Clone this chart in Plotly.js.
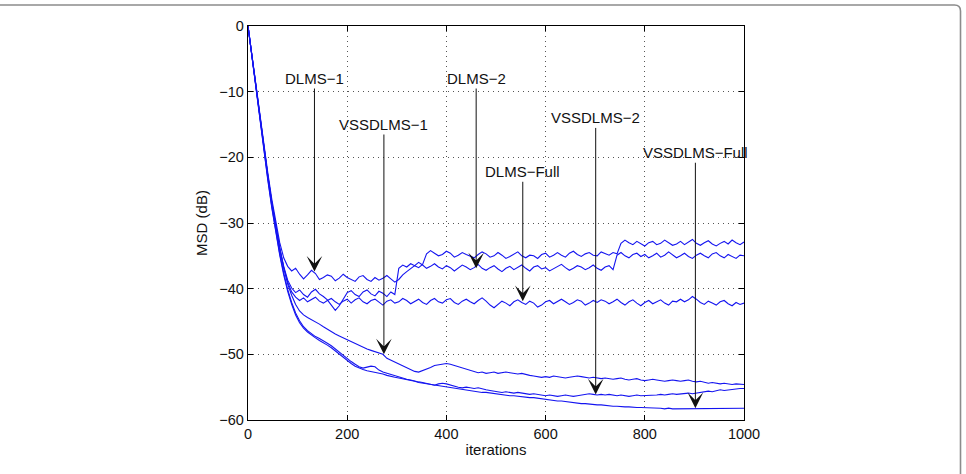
<!DOCTYPE html>
<html>
<head>
<meta charset="utf-8">
<script src="https://cdn.plot.ly/plotly-3.0.1.min.js"></script>
<style>
  html, body { margin: 0; padding: 0; background: #fff; }
  #chart { width: 966px; height: 474px; }
</style>
</head>
<body>
<div id="chart"></div>
<script>
// MSD learning curves, sampled every 8 iterations (0 ... 1000)
const step = 8;
const iterations = Array.from({ length: 126 }, (_, i) => i * step);

const dlms1 = [
  0, -4.6, -9.3, -13.8, -18.2, -22.4, -26.4, -29.9, -33.0, -35.3,
  -36.6, -37.3, -36.9, -37.8, -38.5, -37.9, -37.2, -37.7, -38.6, -38.3,
  -37.9, -38.1, -38.8, -38.4, -37.8, -38.3, -38.6, -38.9, -38.2, -38.0,
  -38.6, -38.9, -38.3, -38.7, -38.4, -38.0, -38.5, -39.0, -38.6, -37.9,
  -37.4, -37.0, -36.5, -36.8, -36.3, -34.7, -34.2, -34.6, -35.0, -34.8,
  -34.3, -34.6, -35.2, -34.9, -34.5, -34.8, -35.1, -35.3, -34.8, -34.4,
  -34.7, -35.2, -35.0, -34.5, -34.9, -35.4, -35.1, -34.7, -34.4, -35.0,
  -35.3, -34.9, -35.0, -35.4, -34.8, -34.6, -35.2, -34.9, -34.5, -34.9,
  -35.2, -34.6, -34.3, -34.8, -35.1, -34.7, -34.5, -34.9, -35.0, -34.4,
  -34.7, -34.9, -34.5, -34.7, -33.1, -32.6, -33.0, -33.3, -32.8, -33.2,
  -33.5, -33.0, -32.8, -33.3, -33.1, -32.6, -33.0, -33.4, -33.2, -32.8,
  -33.3, -32.9, -32.5, -33.1, -33.4, -33.0, -32.7, -33.2, -33.5, -33.1,
  -32.8, -33.2, -32.6, -33.0, -33.3, -32.9
];

const dlms2 = [
  0, -4.7, -9.5, -14.1, -18.6, -22.9, -27.0, -30.6, -33.8, -36.6,
  -38.7, -39.9, -40.6, -40.2, -40.9, -41.3, -40.5, -40.1, -40.8, -41.2,
  -41.7, -42.5, -43.3, -42.6, -41.5, -40.6, -40.3, -40.9, -41.2, -40.5,
  -40.2, -40.8, -41.1, -40.4, -40.7, -41.2, -40.5, -40.9, -36.9, -36.4,
  -36.7, -36.2, -36.5, -36.0, -36.4, -36.9, -36.6, -36.2, -36.7, -37.0,
  -36.5, -36.8, -37.3, -36.9, -36.4, -36.7, -37.1, -36.8, -36.3, -36.9,
  -37.2, -36.8, -36.5, -37.0, -37.4, -36.9, -36.6, -37.1, -36.8, -36.4,
  -36.9, -37.3, -36.7, -36.5, -37.0, -36.8, -37.3, -37.0, -36.6, -36.3,
  -36.8, -37.2, -36.9, -36.5, -36.7, -37.1, -36.8, -36.4, -36.9, -37.2,
  -36.7, -36.5, -37.1, -34.9, -34.5, -35.0, -35.3, -34.8, -34.6, -35.1,
  -34.8, -35.3, -35.0, -34.6, -35.2, -34.9, -34.4, -34.8, -35.3, -35.0,
  -34.6, -35.1, -35.4, -34.9, -34.6, -35.0, -35.3, -34.7, -34.5, -35.0,
  -35.3, -34.8, -35.1, -35.4, -34.9, -35.0
];

const dlmsFull = [
  0, -4.7, -9.4, -14.0, -18.5, -22.8, -26.9, -30.6, -33.9, -36.8,
  -39.0, -40.5, -41.3, -41.8, -41.4, -42.0, -41.7, -41.3, -41.9, -42.2,
  -41.8, -41.5, -42.0, -42.4, -41.9, -41.6, -42.2, -41.7, -41.4, -42.0,
  -42.3, -41.8, -41.6, -42.1, -42.5, -41.9, -41.7, -42.2, -42.0, -41.5,
  -41.8, -42.3, -41.9, -41.6, -42.1, -42.4, -41.8, -41.5, -42.0, -42.2,
  -41.7, -41.5, -42.1, -42.4, -41.9, -41.6, -42.0, -42.3, -41.8, -41.4,
  -41.9, -42.5, -42.9, -42.4, -41.9, -42.2, -42.6, -42.0, -41.7, -42.1,
  -42.4, -41.9, -42.2, -42.8, -42.5, -42.0, -41.8, -42.3, -41.9, -41.6,
  -42.0, -42.4, -42.1, -41.7, -41.9, -42.5, -42.2, -41.8, -42.1, -41.7,
  -41.9, -42.3, -42.0, -41.6, -42.1, -42.5, -42.0, -41.7, -42.2, -42.6,
  -42.1, -41.8, -42.3, -42.0, -41.7, -42.2, -42.5, -41.9, -42.0, -41.6,
  -42.0, -41.7, -41.2, -41.6, -42.1, -42.4, -41.9, -42.2, -42.5, -42.0,
  -41.8, -42.3, -42.6, -42.1, -42.4, -42.2
];

const vssdlms1 = [
  0, -4.7, -9.4, -14.0, -18.5, -22.8, -26.9, -30.6, -33.9, -36.8,
  -39.3, -41.0, -42.4, -43.4, -44.0, -44.4, -44.7, -45.0, -45.4, -45.8,
  -46.2, -46.6, -46.9, -47.2, -47.5, -47.8, -48.1, -48.4, -48.7, -48.9,
  -49.2, -49.4, -49.6, -49.8, -50.0, -50.6, -50.9, -51.2, -51.4, -51.8,
  -52.1, -52.4, -52.6, -52.7, -52.5, -52.2, -52.0, -51.7, -51.6, -51.5,
  -51.4, -51.5, -51.7, -51.9, -52.1, -52.3, -52.4, -52.6, -52.8, -52.7,
  -52.9, -52.8, -52.7, -52.9, -52.8, -52.7, -52.8, -52.9, -53.0, -52.9,
  -53.1, -53.2, -53.3, -53.4, -53.5, -53.4, -53.5, -53.3, -53.4, -53.5,
  -53.6, -53.5, -53.4, -53.3, -53.4, -53.5, -53.6, -53.5, -53.6, -53.7,
  -53.6, -53.7, -53.8, -53.7, -53.6, -53.8, -53.9, -53.8, -53.7, -53.9,
  -54.0, -53.9, -53.8, -53.9, -54.0, -54.1, -54.0, -53.9, -54.0, -54.1,
  -54.0, -53.9, -54.1, -54.2, -54.1, -54.3, -54.4, -54.3, -54.4, -54.5,
  -54.4, -54.5, -54.6, -54.5, -54.6, -54.6
];

const vssdlms2 = [
  0, -4.8, -9.6, -14.3, -18.9, -23.3, -27.5, -31.3, -34.7, -37.6,
  -40.1, -42.1, -43.7, -44.9, -45.8, -46.4, -46.9, -47.3, -47.6, -47.9,
  -48.3, -48.7, -49.2, -49.6, -50.1, -50.6, -51.1, -51.5, -51.9, -52.1,
  -52.0, -51.8, -51.9, -52.4, -52.7, -52.9, -53.0, -53.2, -53.4, -53.6,
  -53.8, -53.9, -54.1, -54.2, -54.3, -54.4, -54.6, -54.7, -54.5, -54.4,
  -54.5, -54.7, -54.9, -55.0, -55.1, -55.0, -55.1, -55.2, -55.1, -55.3,
  -55.4, -55.5, -55.6, -55.7, -55.8, -55.7, -55.8, -55.9, -55.8, -55.9,
  -56.0, -56.1, -56.0, -56.1, -56.2, -56.3, -56.2, -56.3, -56.4, -56.3,
  -56.2, -56.3, -56.4, -56.3, -56.2, -56.1, -56.0, -56.1, -56.2, -56.1,
  -56.2, -56.1, -56.2, -56.3, -56.2, -56.3, -56.4, -56.3, -56.2, -56.3,
  -56.3, -56.2, -56.3, -56.2, -56.1, -56.2, -56.1, -56.0, -56.1, -56.0,
  -56.0, -55.9, -56.0, -55.9, -55.8, -55.7, -55.6, -55.7, -55.5, -55.4,
  -55.5, -55.4, -55.3, -55.3, -55.2, -55.2
];

const vssdlmsFull = [
  0, -4.8, -9.6, -14.4, -19.0, -23.5, -27.7, -31.5, -34.9, -37.9,
  -40.4, -42.4, -44.0, -45.2, -46.0, -46.6, -47.1, -47.5, -47.9, -48.2,
  -48.6, -49.0, -49.5, -49.9, -50.4, -50.9, -51.4, -51.8, -52.1, -52.3,
  -52.5, -52.6, -52.8, -52.9, -53.0, -53.2, -53.4, -53.5, -53.6, -53.7,
  -53.8, -53.9, -54.1, -54.3, -54.4, -54.5, -54.6, -54.7, -54.8, -54.9,
  -55.0, -55.1, -55.2, -55.3, -55.4, -55.4, -55.5, -55.6, -55.7, -55.8,
  -55.8, -55.9, -56.0, -56.1, -56.1, -56.2, -56.3, -56.3, -56.4, -56.5,
  -56.5, -56.6, -56.6, -56.7, -56.8, -56.8, -56.9, -57.0, -57.1, -57.1,
  -57.2, -57.3, -57.3, -57.4, -57.5, -57.5, -57.6, -57.6, -57.7, -57.7,
  -57.8, -57.8, -57.9, -57.9, -58.0, -58.0, -58.0, -58.1, -58.1, -58.1,
  -58.1, -58.2, -58.2, -58.2, -58.2, -58.3, -58.2, -58.3, -58.3, -58.2,
  -58.3, -58.3, -58.2, -58.3, -58.3, -58.2, -58.3, -58.2, -58.2, -58.3,
  -58.2, -58.2, -58.3, -58.2, -58.2, -58.2
];

const seriesNames = ['DLMS−1', 'DLMS−2', 'DLMS−Full', 'VSSDLMS−1', 'VSSDLMS−2', 'VSSDLMS−Full'];
const seriesValues = [dlms1, dlms2, dlmsFull, vssdlms1, vssdlms2, vssdlmsFull];

// Curve labels: label text position and the point the arrow lands on
const labelNames   = ['DLMS−1', 'VSSDLMS−1', 'DLMS−2', 'DLMS−Full', 'VSSDLMS−2', 'VSSDLMS−Full'];
const labelTextIt  = [134, 274, 460, 554, 701, 902];
const labelTextDb  = [-8.0, -15.0, -8.0, -22.2, -14.0, -19.3];
const labelTipIt   = [134, 274, 460, 554, 701, 902];
const labelTipDb   = [-37.4, -50.0, -36.9, -41.9, -56.1, -58.2];

const xTicks = [0, 200, 400, 600, 800, 1000];
const yTicks = [0, -10, -20, -30, -40, -50, -60];

const FONT = 'Liberation Sans, Arial, Helvetica, sans-serif';
const LINE_BLUE = '#1414f0';

const traces = seriesValues.map((vals, k) => ({
  type: 'scatter',
  mode: 'lines',
  name: seriesNames[k],
  x: iterations,
  y: vals,
  line: { color: LINE_BLUE, width: 1.1 },
  hoverinfo: 'skip'
}));

const annotations = labelNames.map((t, k) => ({
  text: t,
  x: labelTipIt[k], y: labelTipDb[k],
  xref: 'x', yref: 'y',
  ax: labelTextIt[k], ay: labelTextDb[k],
  axref: 'x', ayref: 'y',
  showarrow: true,
  arrowhead: 3,
  arrowsize: 2.6,
  arrowwidth: 1,
  arrowcolor: '#111',
  font: { family: FONT, size: 15, color: '#111' }
}));

const axisCommon = {
  showline: true,
  linecolor: '#000',
  linewidth: 1.2,
  mirror: 'ticks',
  ticks: 'inside',
  ticklen: 5,
  tickwidth: 1,
  tickcolor: '#000',
  showgrid: true,
  gridcolor: '#555',
  griddash: '1px,4px',
  gridwidth: 1,
  zeroline: false,
  tickfont: { family: FONT, size: 14.5, color: '#111' }
};

const layout = {
  width: 966,
  height: 474,
  margin: { l: 248, r: 222, t: 26, b: 54 },
  paper_bgcolor: '#fff',
  plot_bgcolor: '#fff',
  showlegend: false,
  xaxis: Object.assign({}, axisCommon, {
    range: [0, 1000],
    tickvals: xTicks,
    ticktext: xTicks.map(String),
    title: { text: 'iterations', font: { family: FONT, size: 15, color: '#111' }, standoff: 4 }
  }),
  yaxis: Object.assign({}, axisCommon, {
    range: [-60, 0],
    tickvals: yTicks,
    ticktext: yTicks.map(v => (v < 0 ? '−' + Math.abs(v) : String(v))),
    title: { text: 'MSD (dB)', font: { family: FONT, size: 15, color: '#111' }, standoff: 8 }
  }),
  annotations: annotations,
  // page frame: top edge with a rounded corner into the right edge
  shapes: [{
    type: 'path',
    xref: 'paper', yref: 'paper',
    path: 'M -0.51 1.0533 L 1.4244 1.0533 Q 1.4365 1.0533 1.4365 1.0381 L 1.4365 -0.2',
    line: { color: '#8c8c8c', width: 1.6 }
  }]
};

Plotly.newPlot('chart', traces, layout, { displayModeBar: false, staticPlot: true });
</script>
</body>
</html>
